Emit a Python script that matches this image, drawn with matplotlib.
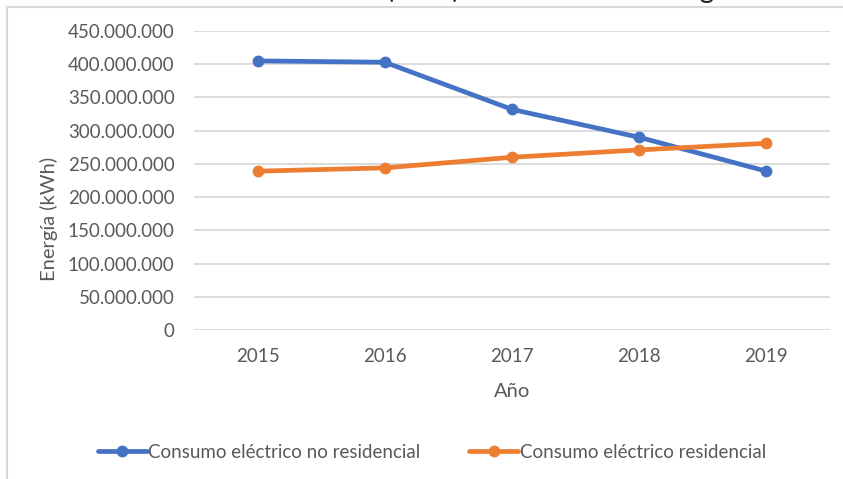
import matplotlib.pyplot as plt
from matplotlib.lines import Line2D
from matplotlib.ticker import FuncFormatter, MultipleLocator

plt.rcParams["font.family"] = ["Lato", "DejaVu Sans"]

anios = ["2015", "2016", "2017", "2018", "2019"]
no_residencial = [405e6, 403e6, 332e6, 290e6, 239e6]
residencial = [239e6, 244e6, 260e6, 271e6, 281e6]

azul = "#4472C4"
naranjo = "#ED7D31"
gris_texto = "#595959"
gris_linea = "#D9D9D9"

W, H = 843, 479
fig = plt.figure(figsize=(W / 100, H / 100), dpi=100)

# borde del cuadro del gráfico
fig.add_artist(Line2D([7 / W, 1], [1 - 7 / H, 1 - 7 / H], color=gris_linea, lw=1.5))
fig.add_artist(Line2D([7 / W, 7 / W], [0, 1 - 7 / H], color=gris_linea, lw=1.5))

# título (queda cortado en el borde superior)
fig.text(452 / W, 1 + 2 / H, "Consumo eléctrico (kWh) total anual en la Región",
         ha="center", va="baseline", fontsize=20, color="#222222")

ax = fig.add_axes([194 / W, 1 - 330 / H, (830 - 194) / W, (330 - 31) / H])
x = range(len(anios))
ax.plot(x, no_residencial, color=azul, lw=3.4, marker="o", ms=7.5,
        label="Consumo eléctrico no residencial", solid_capstyle="round")
ax.plot(x, residencial, color=naranjo, lw=3.4, marker="o", ms=7.5,
        label="Consumo eléctrico residencial", solid_capstyle="round")

ax.set_xlim(-0.5, len(anios) - 0.5)
ax.set_ylim(0, 450e6)
ax.set_xticks(list(x))
ax.set_xticklabels(anios)
ax.yaxis.set_major_locator(MultipleLocator(50e6))
ax.yaxis.set_major_formatter(FuncFormatter(lambda v, p: f"{int(v):,}".replace(",", ".")))
ax.grid(axis="y", color=gris_linea, lw=1.3)
ax.set_axisbelow(True)
for s in ax.spines.values():
    s.set_visible(False)
ax.tick_params(axis="both", length=0, labelsize=13.5, colors=gris_texto)
ax.tick_params(axis="y", pad=14)
ax.tick_params(axis="x", pad=13)

ax.set_xlabel("Año", fontsize=14.5, color=gris_texto, labelpad=13)
fig.text(49 / W, 1 - 219 / H, "Energía (kWh)", rotation=90, ha="center", va="center",
         fontsize=14.5, color=gris_texto)

fig.legend(loc="center", bbox_to_anchor=(432 / W, 1 - 452 / H), ncol=2, frameon=False,
           fontsize=13.5, handlelength=2.6, handletextpad=0.1, columnspacing=2.6,
           labelcolor=gris_texto)

fig.savefig("out.png", dpi=100)
